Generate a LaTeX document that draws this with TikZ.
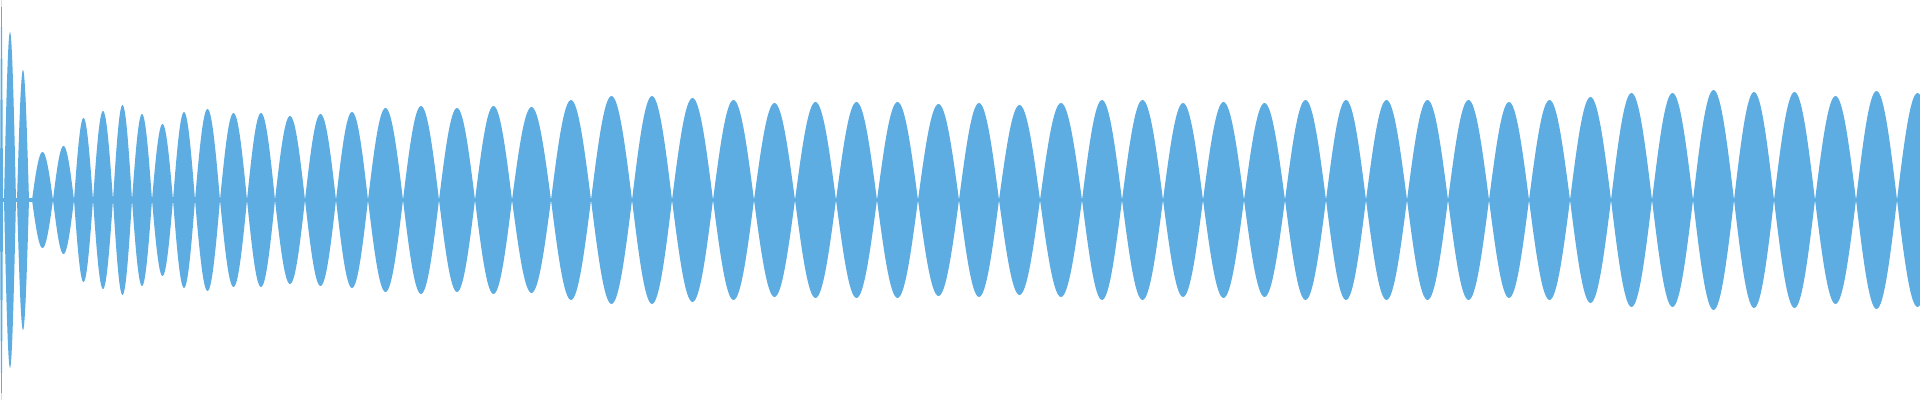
\documentclass[tikz,border=0pt]{standalone}
\definecolor{wave}{HTML}{5DADE2}
\begin{document}
\begin{tikzpicture}[x=0.5pt,y=0.5pt]
\useasboundingbox (0,-200) rectangle (1920,200);
\clip (0,-200) rectangle (1920,200);
\fill[wave] (0,-2) rectangle (1920,2);
\foreach \a/\b/\h in {0/3/200,4/16/168,17/29/130,32/53/48,53/74/54,74/93/82,93/113/89,113/132/95,132/152/86,152/173/76,173/195/88,195/220/91,220/247/87,247/275/87,275/305/84,305/336/86,336/368/88,368/403/92,403/439/94,439/475/92,475/512/94,512/551/93,551/591/100,591/632/104,632/672/104,672/713/102,713/754/100,754/795/97,795/836/98,836/877/98,877/918/98,918/959/96,959/999/97,999/1040/95,1040/1082/97,1082/1122/100,1122/1163/100,1163/1203/97,1203/1244/98,1244/1285/97,1285/1326/100,1326/1366/100,1366/1407/100,1407/1448/100,1448/1489/100,1489/1529/98,1529/1570/100,1570/1611/103,1611/1652/107,1652/1693/107,1693/1734/110,1734/1774/108,1774/1815/108,1815/1856/104,1856/1897/109,1897/1938/107}{
  \fill[wave] (\a,0) -- plot[domain=0:1,samples=31,variable=\t] ({\a+(\b-\a)*\t},{\h*sin(180*\t)}) -- plot[domain=1:0,samples=31,variable=\t] ({\a+(\b-\a)*\t},{-\h*sin(180*\t)}) -- cycle;
}
\end{tikzpicture}
\end{document}
